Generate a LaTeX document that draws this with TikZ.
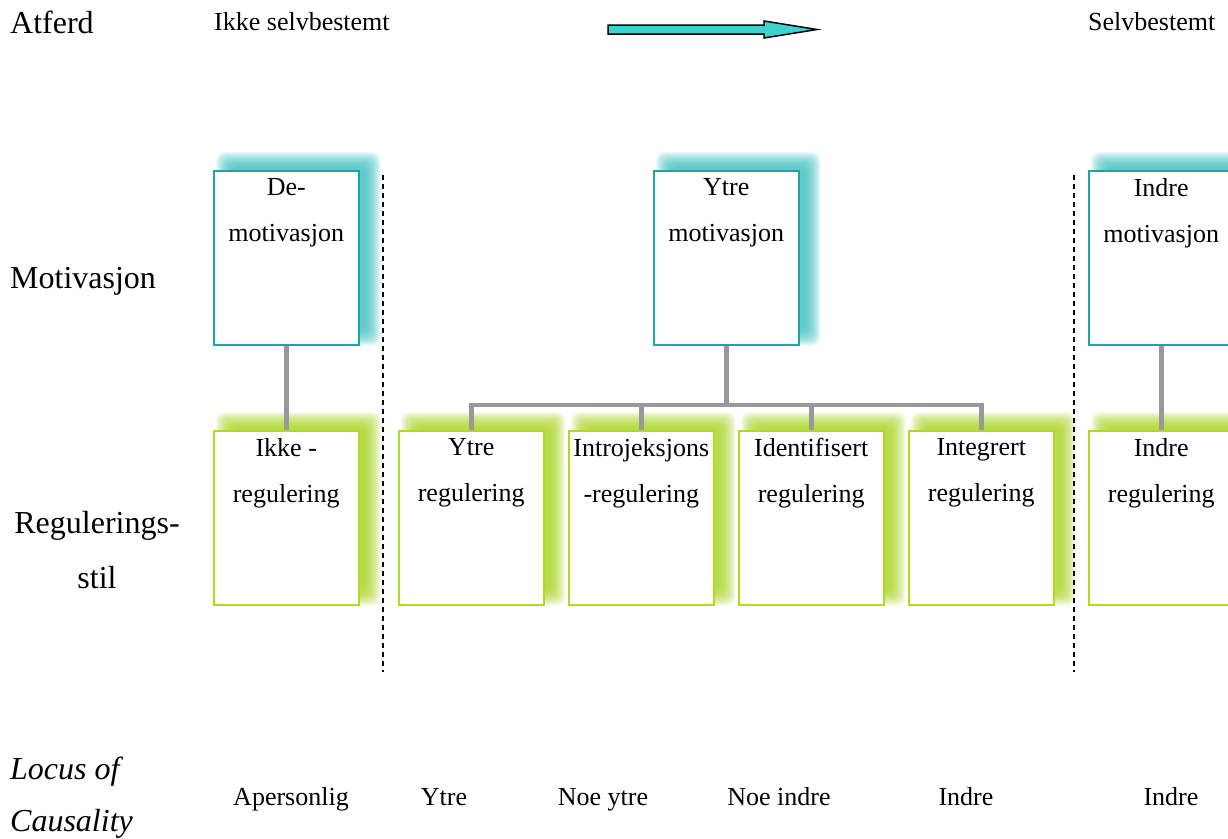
\documentclass[tikz,border=0pt]{standalone}
\usepackage{fontspec}
\setmainfont{Liberation Serif}
\definecolor{tealc}{HTML}{1AA6A6}
\definecolor{tealglow}{HTML}{2FBABA}
\definecolor{greenc}{HTML}{B0DA1C}
\definecolor{greenglow}{HTML}{A2D014}
\definecolor{grayc}{HTML}{999999}
\definecolor{arrowc}{HTML}{3DD2D2}
\pgfdeclarelayer{glow}
\pgfdeclarelayer{conn}
\pgfsetlayers{glow,conn,main}
\begin{document}
\begin{tikzpicture}[x=1pt,y=-1pt,
  boxbase/.style={line width=1.5pt, fill=white, minimum width=145pt, minimum height=174pt, inner sep=0pt, anchor=north west},
  motbox/.style={boxbase, draw=tealc},
  regbox/.style={boxbase, draw=greenc},
  conn/.style={draw=grayc, line width=4.5pt},
  small/.style={font=\fontsize{26}{46}\selectfont, align=center, inner sep=0pt},
  big/.style={font=\fontsize{32}{55}\selectfont, inner sep=0pt},
  sepline/.style={line width=2pt, dash pattern=on 5pt off 4pt},
  bigarrow/.style={draw=black, line width=1.5pt, fill=arrowc, line join=miter}]
\useasboundingbox (0,0) rectangle (1228,838);

% boxes
\node[motbox] (m1) at (213,170) {};
\node[motbox] (m2) at (653,170) {};
\node[motbox] (m3) at (1088,170) {};
\node[regbox] (r1) at (213,430) {};
\node[regbox] (r2) at (398,430) {};
\node[regbox] (r3) at (568,430) {};
\node[regbox] (r4) at (738,430) {};
\node[regbox] (r5) at (908,430) {};
\node[regbox] (r6) at (1088,430) {};

% glows
\begin{pgfonlayer}{glow}
\foreach \b/\c in {m1/tealglow,m2/tealglow,m3/tealglow,r1/greenglow,r2/greenglow,r3/greenglow,r4/greenglow,r5/greenglow,r6/greenglow}{
  \foreach \e in {9,8,...,-6}{
    \fill[\c, opacity=0.085, rounded corners=8pt] ([shift={(12-\e,-9-\e)}]\b.north west) rectangle ([shift={(12+\e,-9+\e)}]\b.south east);
  }
}
\end{pgfonlayer}

% connectors
\begin{pgfonlayer}{conn}
\coordinate (hub) at (m2.south |- 0,405);
\draw[conn] (m1.south) -- (r1.north);
\draw[conn] (m3.south) -- (r6.north);
\draw[conn] (m2.south) -- (hub);
\draw[conn] (r2.north) -- (r2.north |- hub) -- (r5.north |- hub) -- (r5.north);
\draw[conn] (r3.north |- hub) -- (r3.north);
\draw[conn] (r4.north |- hub) -- (r4.north);
\end{pgfonlayer}

% box texts
\node[small, anchor=north] (t1) at ([yshift=-8]m1.north) {De-\\motivasjon};
\node[small, anchor=north] (t2) at ([yshift=-8]m2.north) {Ytre\\motivasjon};
\node[small, anchor=north] (t3) at ([yshift=-8]m3.north) {Indre\\motivasjon};
\node[small, anchor=north] (t4) at ([yshift=-8]r1.north) {Ikke -\\regulering};
\node[small, anchor=north] (t5) at ([yshift=-8]r2.north) {Ytre\\regulering};
\node[small, anchor=north] (t6) at ([yshift=-8]r3.north) {Introjeksjons\\-regulering};
\node[small, anchor=north] (t7) at ([yshift=-8]r4.north) {Identifisert\\regulering};
\node[small, anchor=north] (t8) at ([yshift=-8]r5.north) {Integrert\\regulering};
\node[small, anchor=north] (t9) at ([yshift=-8]r6.north) {Indre\\regulering};

% dotted separators
\coordinate (s1a) at (383,175);
\coordinate (s1b) at (383,672);
\coordinate (s2a) at (1074,175);
\coordinate (s2b) at (1074,672);
\draw[sepline] (s1a) -- (s1b);
\draw[sepline] (s2a) -- (s2b);

% top row
\node[big, anchor=base west] (atferd) at (10,33) {Atferd};
\node[small, anchor=base west] (ikke) at (214,30) {Ikke selvbestemt};
\node[small, anchor=base west] (selv) at (1088,30) {Selvbestemt};
\draw[bigarrow] (608,25) -- (764,25) -- (764,21) -- (817,29.5) -- (764,38) -- (764,34) -- (608,34) -- cycle;

% left labels
\node[big, anchor=base west] (motiv) at (10,288) {Motivasjon};
\node[big, anchor=north, align=center] (regstil) at (97,511) {Regulerings-\\stil};
\node[big, anchor=north west, align=left, font=\fontsize{32}{52}\selectfont\itshape] (locus) at (10,757) {Locus of\\Causality};

% bottom row
\node[small, anchor=base] (l1) at (291,805) {Apersonlig};
\node[small, anchor=base] (l2) at (444,805) {Ytre};
\node[small, anchor=base] (l3) at (603,805) {Noe ytre};
\node[small, anchor=base] (l4) at (779,805) {Noe indre};
\node[small, anchor=base] (l5) at (966,805) {Indre};
\node[small, anchor=base] (l6) at (1171,805) {Indre};
\end{tikzpicture}
\end{document}
